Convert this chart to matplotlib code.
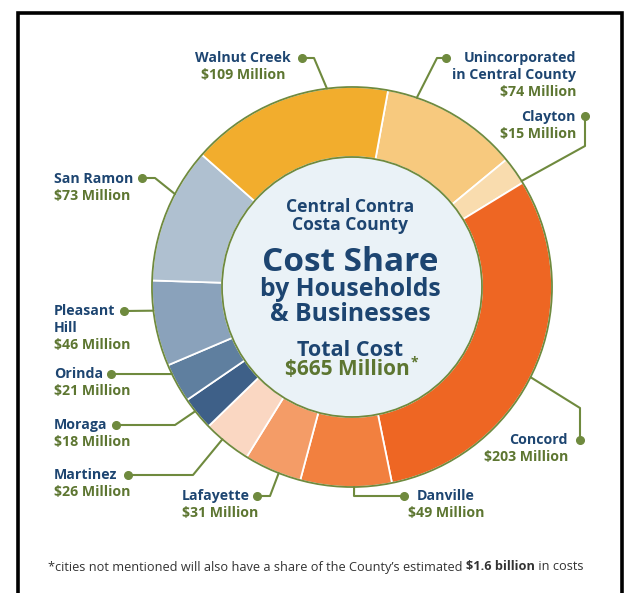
import numpy as np
import matplotlib
matplotlib.use("Agg")
import matplotlib.pyplot as plt
from matplotlib.patches import Circle

# data: clockwise from the top, starting at Unincorporated
names = ["Unincorporated\nin Central County", "Clayton", "Concord", "Danville", "Lafayette",
         "Martinez", "Moraga", "Orinda", "Pleasant\nHill", "San Ramon", "Walnut Creek"]
costs = [74, 15, 203, 49, 31, 26, 18, 21, 46, 73, 109]  # $ Million
colors = ["#F7C97E", "#F9DCAE", "#EE6623", "#F2803F", "#F49C67", "#FAD7C2",
          "#3E6088", "#5F7F9F", "#8AA2BB", "#AFC0D0", "#F2AD2D"]
total = sum(costs)

W, H = 631, 593
cx, cy = 352, 287   # donut centre (pixels, y down)
R, r_in = 200, 130

NAVY = "#1D4571"
GREEN = "#5D7631"
LINE = "#6F8A3E"
plt.rcParams['font.family'] = ['Open Sans', 'DejaVu Sans']

fig = plt.figure(figsize=(W / 100, H / 100), dpi=100)
ax = fig.add_axes([0, 0, 1, 1])

# y axis is inverted below, so counterclock=True is clockwise on screen
start = -90 + 10.4
ax.pie(costs, colors=colors, radius=R, center=(cx, cy), startangle=start,
       counterclock=True, wedgeprops=dict(width=R - r_in, edgecolor="white", linewidth=1.3))
ax.add_patch(Circle((cx, cy), R, fill=False, edgecolor=LINE, lw=1.3, zorder=3))
ax.add_patch(Circle((cx, cy), r_in, facecolor="#EAF2F7", edgecolor=LINE, lw=1.3, zorder=3))

ax.set_xlim(0, W)
ax.set_ylim(H, 0)
ax.set_aspect("equal")
ax.axis("off")

def ring_pt(theta):
    # theta in degrees clockwise from north
    t = np.radians(theta)
    return cx + R * np.sin(t), cy - R * np.cos(t)

# leader layout: anchor angle on ring, path from dot, text spec
leaders = {
    "Walnut Creek": (352.8, [(302, 58), (314, 58)], (243, 58, "center")),
    "Unincorporated\nin Central County": (18.9, [(446, 58), (437, 58)], (576, 58, "right")),
    "Clayton": (58.0, [(585, 116), (585, 146)], (576, 117, "right")),
    "Concord": (116.8, [(580, 440), (580, 408)], (568, 440, "right")),
    "Danville": (179.4, [(404, 496), (354, 496)], (446, 496, "center")),
    "Lafayette": (201.5, [(257, 496), (270, 496)], (182, 496, "left")),
    "Martinez": (220.4, [(128, 475), (193, 475)], (54, 475, "left")),
    "Moraga": (231.6, [(116, 425), (175, 425)], (54, 425, "left")),
    "Orinda": (244.2, [(111, 374)], (54, 374, "left")),
    "Pleasant\nHill": (263.2, [(124, 311)], (54, 311, "left")),
    "San Ramon": (297.7, [(142, 178), (155, 178)], (54, 179, "left")),
}

lh = 16.8
fs = 10.2
for name, cost in zip(names, costs):
    ang, path, (tx, ty, ha) = leaders[name]
    pts = path + [ring_pt(ang)]
    xs, ys = zip(*pts)
    ax.plot(xs, ys, color=LINE, lw=1.5, solid_capstyle="round", zorder=4)
    ax.plot(path[0][0], path[0][1], "o", color=LINE, ms=5.5, zorder=5)
    lines = name.split("\n")
    for i, ln in enumerate(lines):
        ax.text(tx, ty + i * lh, ln, ha=ha, va="center", fontsize=fs,
                fontweight="bold", color=NAVY)
    ax.text(tx, ty + len(lines) * lh, f"${cost} Million", ha=ha, va="center",
            fontsize=fs, fontweight="bold", color=GREEN)

# centre titles
ax.text(350, 212, "Central Contra", ha="center", va="baseline", fontsize=12.6, fontweight="bold", color=NAVY)
ax.text(350, 230, "Costa County", ha="center", va="baseline", fontsize=12.6, fontweight="bold", color=NAVY)
ax.text(350, 271, "Cost Share", ha="center", va="baseline", fontsize=24, fontweight="bold", color=NAVY)
ax.text(350, 296, "by Households", ha="center", va="baseline", fontsize=17.8, fontweight="bold", color=NAVY)
ax.text(350, 321, "& Businesses", ha="center", va="baseline", fontsize=17.8, fontweight="bold", color=NAVY)
ax.text(350, 356, "Total Cost", ha="center", va="baseline", fontsize=15.5, fontweight="bold", color=NAVY)
tot = ax.text(347, 375, f"${total} Million", ha="center", va="baseline", fontsize=15,
              fontweight="bold", color=GREEN)

fig.canvas.draw()
rend = fig.canvas.get_renderer()
bb = tot.get_window_extent(renderer=rend)
ax.text(bb.x1 + 1, 362, "*", ha="left", va="center", fontsize=10, fontweight="bold", color=GREEN)

# footnote, with the bold part in the middle
parts = [("*cities not mentioned will also have a share of the County\u2019s estimated ", "normal"),
         ("$1.6 billion", "bold"),
         (" in costs", "normal")]
x = 48
for txt, wt in parts:
    t = ax.text(x, 567, txt, ha="left", va="center", fontsize=9.2, fontweight=wt, color="#333333")
    x += t.get_window_extent(renderer=rend).width

# frame
ax.plot([18, 18, 622, 622], [H + 5, 12.5, 12.5, H + 5], color="black", lw=2.6,
        solid_joinstyle="miter", clip_on=False)

fig.savefig("out.png", dpi=100)
